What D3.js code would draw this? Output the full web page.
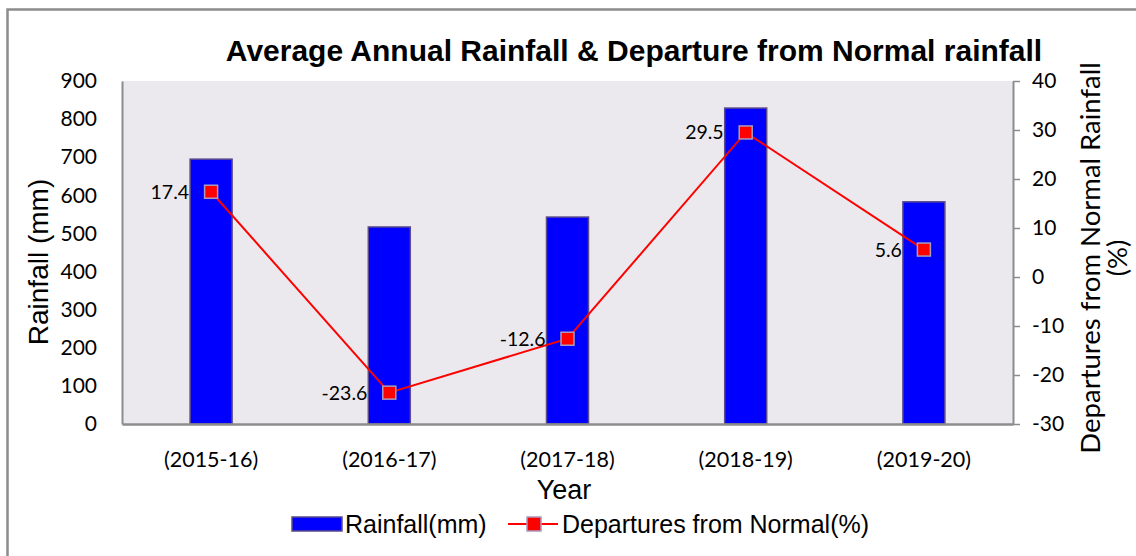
<!DOCTYPE html>
<html>
<head>
<meta charset="utf-8">
<script src="https://cdn.jsdelivr.net/npm/d3@7"></script>
<style>
  body { margin: 0; background: #fff; }
  .tick text { font-family: Lato, "Open Sans", sans-serif; }
</style>
</head>
<body>
<div class="combo-chart"></div>
<script>
// data
const years = ["(2015-16)", "(2016-17)", "(2017-18)", "(2018-19)", "(2019-20)"]
const rainfall = [695, 517, 543, 829, 583]
const departures = [17.4, -23.6, -12.6, 29.5, 5.6]
const rainTicks = [0, 100, 200, 300, 400, 500, 600, 700, 800, 900]
const depTicks = [-30, -20, -10, 0, 10, 20, 30, 40]

const W = 1136, H = 556
const margin = {top: 81, right: 123, bottom: 132, left: 122},
    width = W - margin.left - margin.right,
    height = H - margin.top - margin.bottom;

const svg = d3.select(".combo-chart")
    .append("svg")
        .attr("width", W)
        .attr("height", H)

// outer frame (runs off the right and bottom edges like the source)
svg.append("rect")
    .attr("x", 7.5).attr("y", 9.5)
    .attr("width", W + 20).attr("height", H + 20)
    .attr("fill", "none")
    .attr("stroke", "#8c8c8c")
    .attr("stroke-width", 2.5)

svg.append("text")
    .attr("x", 634).attr("y", 61)
    .attr("text-anchor", "middle")
    .attr("font-family", "'Liberation Sans', Arial, sans-serif")
    .attr("font-weight", "bold")
    .attr("font-size", 30)
    .text("Average Annual Rainfall & Departure from Normal rainfall")

const g = svg.append("g")
    .attr("transform", "translate(" + margin.left + "," + margin.top + ")")

g.append("rect")
    .attr("width", width).attr("height", height)
    .attr("fill", "#ebe9ee")

let x = d3.scaleBand()
    .range([0, width])
    .domain(years)
    .padding(0)

let y = d3.scaleLinear()
    .domain([0, 900])
    .range([height, 0])

let y2 = d3.scaleLinear()
    .domain([-30, 40])
    .range([height, 0])

const barW = 42

g.selectAll("mybar")
    .data(rainfall)
    .enter()
    .append("rect")
        .attr("x", (d, i) => x(years[i]) + x.bandwidth() / 2 - barW / 2)
        .attr("y", d => y(d))
        .attr("width", barW)
        .attr("height", d => height - y(d))
        .attr("fill", "#0000ff")
        .attr("stroke", "#5b4b8c")
        .attr("stroke-width", 1.5)

// left axis
const leftAxis = g.append("g")
    .call(d3.axisLeft(y).tickValues(rainTicks).tickSize(0).tickPadding(25))
leftAxis.select(".domain").attr("stroke", "#8c8c8c").attr("stroke-width", 2)
leftAxis.selectAll("text").attr("font-size", 21).attr("fill", "#000")

// right axis (plain hyphen for negatives, like the source)
const rightAxis = g.append("g")
    .attr("transform", "translate(" + width + ",0)")
    .call(d3.axisRight(y2).tickValues(depTicks).tickFormat(d => String(d))
        .tickSize(7).tickSizeOuter(0).tickPadding(12))
rightAxis.select(".domain").attr("stroke", "#8c8c8c").attr("stroke-width", 2)
rightAxis.selectAll("line").attr("stroke", "#8c8c8c").attr("stroke-width", 1.5)
rightAxis.selectAll("text").attr("font-size", 21).attr("fill", "#000")

// bottom axis
const bottomAxis = g.append("g")
    .attr("transform", "translate(0," + height + ")")
    .call(d3.axisBottom(x).tickSize(0).tickPadding(28))
bottomAxis.select(".domain").attr("stroke", "#8c8c8c").attr("stroke-width", 2.5)
bottomAxis.selectAll("text").attr("font-size", 21.5).attr("fill", "#000")

// departures line
const line = d3.line()
    .x((d, i) => x(years[i]) + x.bandwidth() / 2)
    .y(d => y2(d))

g.append("path")
    .datum(departures)
    .attr("fill", "none")
    .attr("stroke", "#ff0000")
    .attr("stroke-width", 2)
    .attr("d", line)

g.selectAll("mymarker")
    .data(departures)
    .enter()
    .append("rect")
        .attr("x", (d, i) => x(years[i]) + x.bandwidth() / 2 - 6.5)
        .attr("y", d => y2(d) - 6.5)
        .attr("width", 13).attr("height", 13)
        .attr("fill", "#ff0000")
        .attr("stroke", "#a99bbf")
        .attr("stroke-width", 1.5)

g.selectAll("mylabel")
    .data(departures)
    .enter()
    .append("text")
        .attr("x", (d, i) => x(years[i]) + x.bandwidth() / 2 - 22)
        .attr("y", d => y2(d) + 7)
        .attr("text-anchor", "end")
        .attr("font-family", "Lato, 'Open Sans', sans-serif")
        .attr("font-size", 19.5)
        .text(d => d)

// axis titles
svg.append("text")
    .attr("transform", "translate(48,262) rotate(-90)")
    .attr("text-anchor", "middle")
    .attr("font-family", "'Liberation Sans', Arial, sans-serif")
    .attr("font-size", 28)
    .text("Rainfall (mm)")

const rt = svg.append("text")
    .attr("transform", "translate(1100,258) rotate(-90)")
    .attr("text-anchor", "middle")
    .attr("font-family", "Lato, 'Open Sans', sans-serif")
    .attr("font-size", 27.5)
rt.append("tspan").attr("x", 0).attr("dy", 0).text("Departures from Normal Rainfall")
rt.append("tspan").attr("x", 0).attr("dy", 27).text("(%)")

svg.append("text")
    .attr("x", 564).attr("y", 499)
    .attr("text-anchor", "middle")
    .attr("font-family", "'Liberation Sans', Arial, sans-serif")
    .attr("font-size", 27)
    .text("Year")

// legend
const legend = svg.append("g")
    .attr("font-family", "'Liberation Sans', Arial, sans-serif")
    .attr("font-size", 25)

legend.append("rect")
    .attr("x", 292).attr("y", 517)
    .attr("width", 50).attr("height", 14)
    .attr("fill", "#0000ff")
    .attr("stroke", "#5b4b8c")
    .attr("stroke-width", 1.5)
legend.append("text").attr("x", 345).attr("y", 533).text("Rainfall(mm)")

legend.append("line")
    .attr("x1", 508).attr("x2", 558)
    .attr("y1", 524).attr("y2", 524)
    .attr("stroke", "#ff0000").attr("stroke-width", 2)
legend.append("rect")
    .attr("x", 527).attr("y", 517)
    .attr("width", 14).attr("height", 14)
    .attr("fill", "#ff0000")
    .attr("stroke", "#a99bbf")
    .attr("stroke-width", 1.5)
legend.append("text").attr("x", 562).attr("y", 533).text("Departures from Normal(%)")
</script>
</body>
</html>
